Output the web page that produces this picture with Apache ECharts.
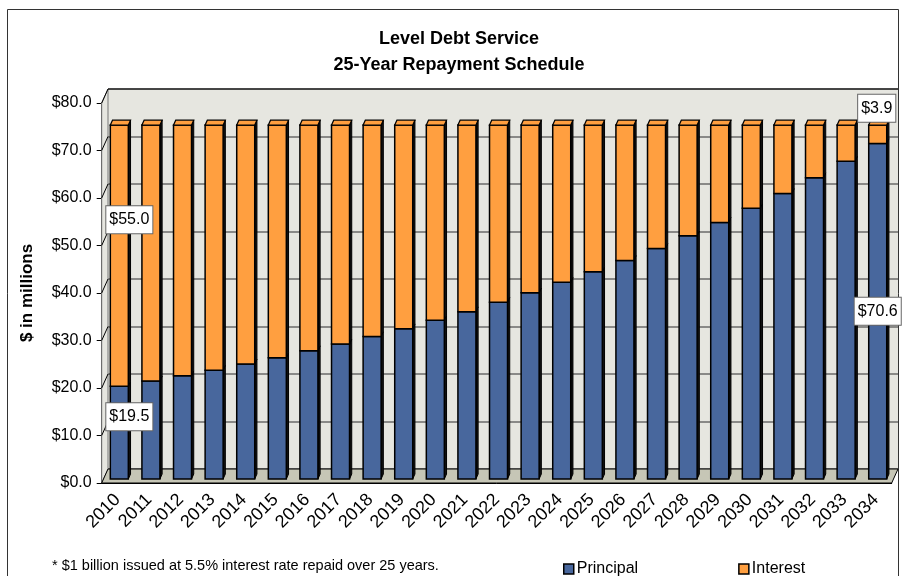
<!DOCTYPE html>
<html>
<head>
<meta charset="utf-8">
<title>Level Debt Service</title>
<script src="https://cdn.jsdelivr.net/npm/echarts@6/dist/echarts.min.js"></script>
<style>
  html, body { margin: 0; padding: 0; background: #ffffff; }
  #chart { width: 902px; height: 576px; }
</style>
</head>
<body>
<div id="chart"></div>
<script>
// Annual debt service on a $1 billion issue, $ millions
const years = ['2010','2011','2012','2013','2014','2015','2016','2017','2018','2019',
               '2020','2021','2022','2023','2024','2025','2026','2027','2028','2029',
               '2030','2031','2032','2033','2034'];
const principal = [19.5, 20.6, 21.7, 22.9, 24.2, 25.5, 27.0, 28.4, 30.0, 31.6,
                   33.4, 35.2, 37.2, 39.2, 41.4, 43.6, 46.0, 48.5, 51.2, 54.0,
                   57.0, 60.1, 63.4, 66.9, 70.6];
const interest  = [55.0, 53.9, 52.8, 51.6, 50.3, 49.0, 47.5, 46.1, 44.5, 42.9,
                   41.1, 39.3, 37.3, 35.3, 33.1, 30.9, 28.5, 26.0, 23.3, 20.5,
                   17.5, 14.4, 11.1,  7.6,  3.9];
const yMin = 0, yMax = 80, yStep = 10;

const FONT = 'Arial, "Liberation Sans", Helvetica, sans-serif';
const BLUE = '#48679d';
const ORANGE = '#ff9f40';
const WALL = '#e6e6e0';
const FLOOR = '#c6c6b6';

// oblique depth of the plot box (pixels from front plane to back wall)
const DEPTH = { x: 6.3, y: -14 };
const BAR_FRONT = 0.29, BAR_BACK = 0.64, BAR_RATIO = 0.57;

// which bars carry a value callout, with a nudge for the callout box
const callouts = {
  Principal: { 0: [10, -16], 24: [0, 0] },
  Interest:  { 0: [10, -36], 24: [-1, -26] }
};

const GRID = { left: 101.7, top: 103, width: 790, height: 380 };

function barItem(seriesName, color, isTop) {
  return function (params, api) {
    const i = api.value(0), lo = api.value(1), hi = api.value(2);
    const band = api.size([1, 0])[0];
    const w = band * BAR_RATIO;
    const pLo = api.coord([i, lo]);
    const pHi = api.coord([i, hi]);
    const fx = pLo[0] - w / 2 + DEPTH.x * BAR_FRONT;
    const fy0 = pLo[1] + DEPTH.y * BAR_FRONT;
    const fy1 = pHi[1] + DEPTH.y * BAR_FRONT;
    const ddx = DEPTH.x * (BAR_BACK - BAR_FRONT);
    const ddy = DEPTH.y * (BAR_BACK - BAR_FRONT);
    const kids = [
      { type: 'polygon', shape: { points: [[fx + w, fy1], [fx + w + ddx, fy1 + ddy], [fx + w + ddx, fy0 + ddy], [fx + w, fy0]] },
        style: { fill: '#111', stroke: '#000', lineWidth: 1 } },
      { type: 'rect', shape: { x: fx, y: fy1, width: w, height: fy0 - fy1 },
        style: { fill: color, stroke: '#000', lineWidth: 1.5 } }
    ];
    if (isTop) {
      kids.push({ type: 'polygon', shape: { points: [[fx, fy1], [fx + ddx, fy1 + ddy], [fx + w + ddx, fy1 + ddy], [fx + w, fy1]] },
        style: { fill: color, stroke: '#000', lineWidth: 1.2 } });
    }
    const c = callouts[seriesName][params.dataIndex];
    if (c) {
      const cx = fx + w / 2 + c[0];
      const cy = (fy0 + fy1) / 2 + c[1];
      kids.push({ type: 'text', z2: 100, x: cx, y: cy,
        style: { text: '$' + (hi - lo).toFixed(1), fill: '#000', font: '16px ' + FONT,
                 align: 'center', verticalAlign: 'middle', backgroundColor: '#fff',
                 borderColor: '#666', borderWidth: 1, padding: [6, 3, 5, 3] } });
    }
    return { type: 'group', children: kids };
  };
}

// floor, left side wall and its oblique grid lines
function frameItem(params, api) {
  const n = years.length;
  const band = api.size([1, 0])[0];
  const x0 = api.coord([0, 0])[0] - band / 2;
  const x1 = api.coord([n - 1, 0])[0] + band / 2;
  const yb = api.coord([0, yMin])[1];
  const yt = api.coord([0, yMax])[1];
  const kids = [
    { type: 'polygon', shape: { points: [[x0, yb], [x0 + DEPTH.x, yb + DEPTH.y], [x0 + DEPTH.x, yt + DEPTH.y], [x0, yt]] },
      style: { fill: WALL, stroke: '#777', lineWidth: 1 } },
    { type: 'polygon', shape: { points: [[x0, yb], [x1, yb], [x1 + DEPTH.x, yb + DEPTH.y], [x0 + DEPTH.x, yb + DEPTH.y]] },
      style: { fill: FLOOR, stroke: '#000', lineWidth: 1 } }
  ];
  for (let v = yMin + yStep; v <= yMax; v += yStep) {
    const y = api.coord([0, v])[1];
    kids.push({ type: 'line', shape: { x1: x0, y1: y, x2: x0 + DEPTH.x, y2: y + DEPTH.y },
      style: { stroke: '#000', lineWidth: 1 } });
  }
  kids.push({ type: 'polyline', shape: { points: [[x0 + DEPTH.x, yt + DEPTH.y], [x1 + DEPTH.x, yt + DEPTH.y]] },
    style: { stroke: '#000', lineWidth: 1.2, fill: null } });
  return { type: 'group', children: kids };
}

const principalData = years.map((y, i) => [i, 0, principal[i]]);
const interestData = years.map((y, i) => [i, principal[i], principal[i] + interest[i]]);

const chart = echarts.init(document.getElementById('chart'), null, { renderer: 'canvas' });
chart.setOption({
  animation: false,
  backgroundColor: '#ffffff',
  textStyle: { fontFamily: FONT },
  title: {
    text: 'Level Debt Service\n25-Year Repayment Schedule',
    left: 454, top: 21, textAlign: 'center',
    textStyle: { fontFamily: FONT, fontSize: 18, fontWeight: 'bold', color: '#000', lineHeight: 26 }
  },
  legend: {
    data: [
      { name: 'Principal', icon: 'rect', itemStyle: { color: BLUE, borderColor: '#000', borderWidth: 1.5 } },
      { name: 'Interest', icon: 'rect', itemStyle: { color: ORANGE, borderColor: '#000', borderWidth: 1.5 } }
    ],
    left: 558, top: 556, itemWidth: 10, itemHeight: 10, itemGap: 100,
    textStyle: { fontFamily: FONT, fontSize: 16, color: '#000', padding: [0, 0, 0, -2] }
  },
  graphic: [
    { type: 'rect', shape: { x: 7.5, y: 9.5, width: 891, height: 600 },
      style: { fill: null, stroke: '#333', lineWidth: 1 }, silent: true },
    { type: 'text', left: 52, top: 558,
      style: { text: '* $1 billion issued at 5.5% interest rate repaid over 25 years.',
               font: '14.5px ' + FONT, fill: '#000' } }
  ],
  grid: [
    { left: GRID.left, top: GRID.top, width: GRID.width, height: GRID.height },
    { left: GRID.left + DEPTH.x, top: GRID.top + DEPTH.y, width: GRID.width, height: GRID.height,
      show: true, backgroundColor: WALL, borderWidth: 0 }
  ],
  xAxis: [
    { type: 'category', gridIndex: 0, data: years, boundaryGap: true,
      axisLine: { lineStyle: { color: '#000', width: 1 } },
      axisTick: { length: 7, lineStyle: { color: '#000' } },
      axisLabel: { rotate: 45, interval: 0, fontSize: 18, color: '#000', margin: 14, fontFamily: FONT } },
    { type: 'category', gridIndex: 1, data: years, show: false }
  ],
  yAxis: [
    { type: 'value', gridIndex: 0, min: yMin, max: yMax, interval: yStep,
      name: '$ in millions', nameLocation: 'middle', nameGap: 66, nameRotate: 90,
      nameTextStyle: { fontFamily: FONT, fontSize: 17, fontWeight: 'bold', color: '#000' },
      axisLine: { show: true, lineStyle: { color: '#000' } },
      axisTick: { show: true, length: 5, lineStyle: { color: '#000' } },
      axisLabel: { fontSize: 16, color: '#000', margin: 10, fontFamily: FONT,
                   formatter: v => '$' + v.toFixed(1) },
      splitLine: { show: false } },
    { type: 'value', gridIndex: 1, min: yMin, max: yMax, interval: yStep,
      axisLine: { show: false }, axisTick: { show: false }, axisLabel: { show: false },
      splitLine: { show: true, lineStyle: { color: '#6a6a6a', width: 1.5 } } }
  ],
  series: [
    { type: 'custom', name: 'frame', xAxisIndex: 0, yAxisIndex: 0, z: 2, silent: true,
      renderItem: frameItem, data: [[0]] },
    { type: 'custom', name: 'Principal', xAxisIndex: 0, yAxisIndex: 0, z: 3,
      itemStyle: { color: BLUE }, encode: { x: 0, y: [1, 2] },
      renderItem: barItem('Principal', BLUE, false), data: principalData },
    { type: 'custom', name: 'Interest', xAxisIndex: 0, yAxisIndex: 0, z: 3,
      itemStyle: { color: ORANGE }, encode: { x: 0, y: [1, 2] },
      renderItem: barItem('Interest', ORANGE, true), data: interestData }
  ]
});
</script>
</body>
</html>
